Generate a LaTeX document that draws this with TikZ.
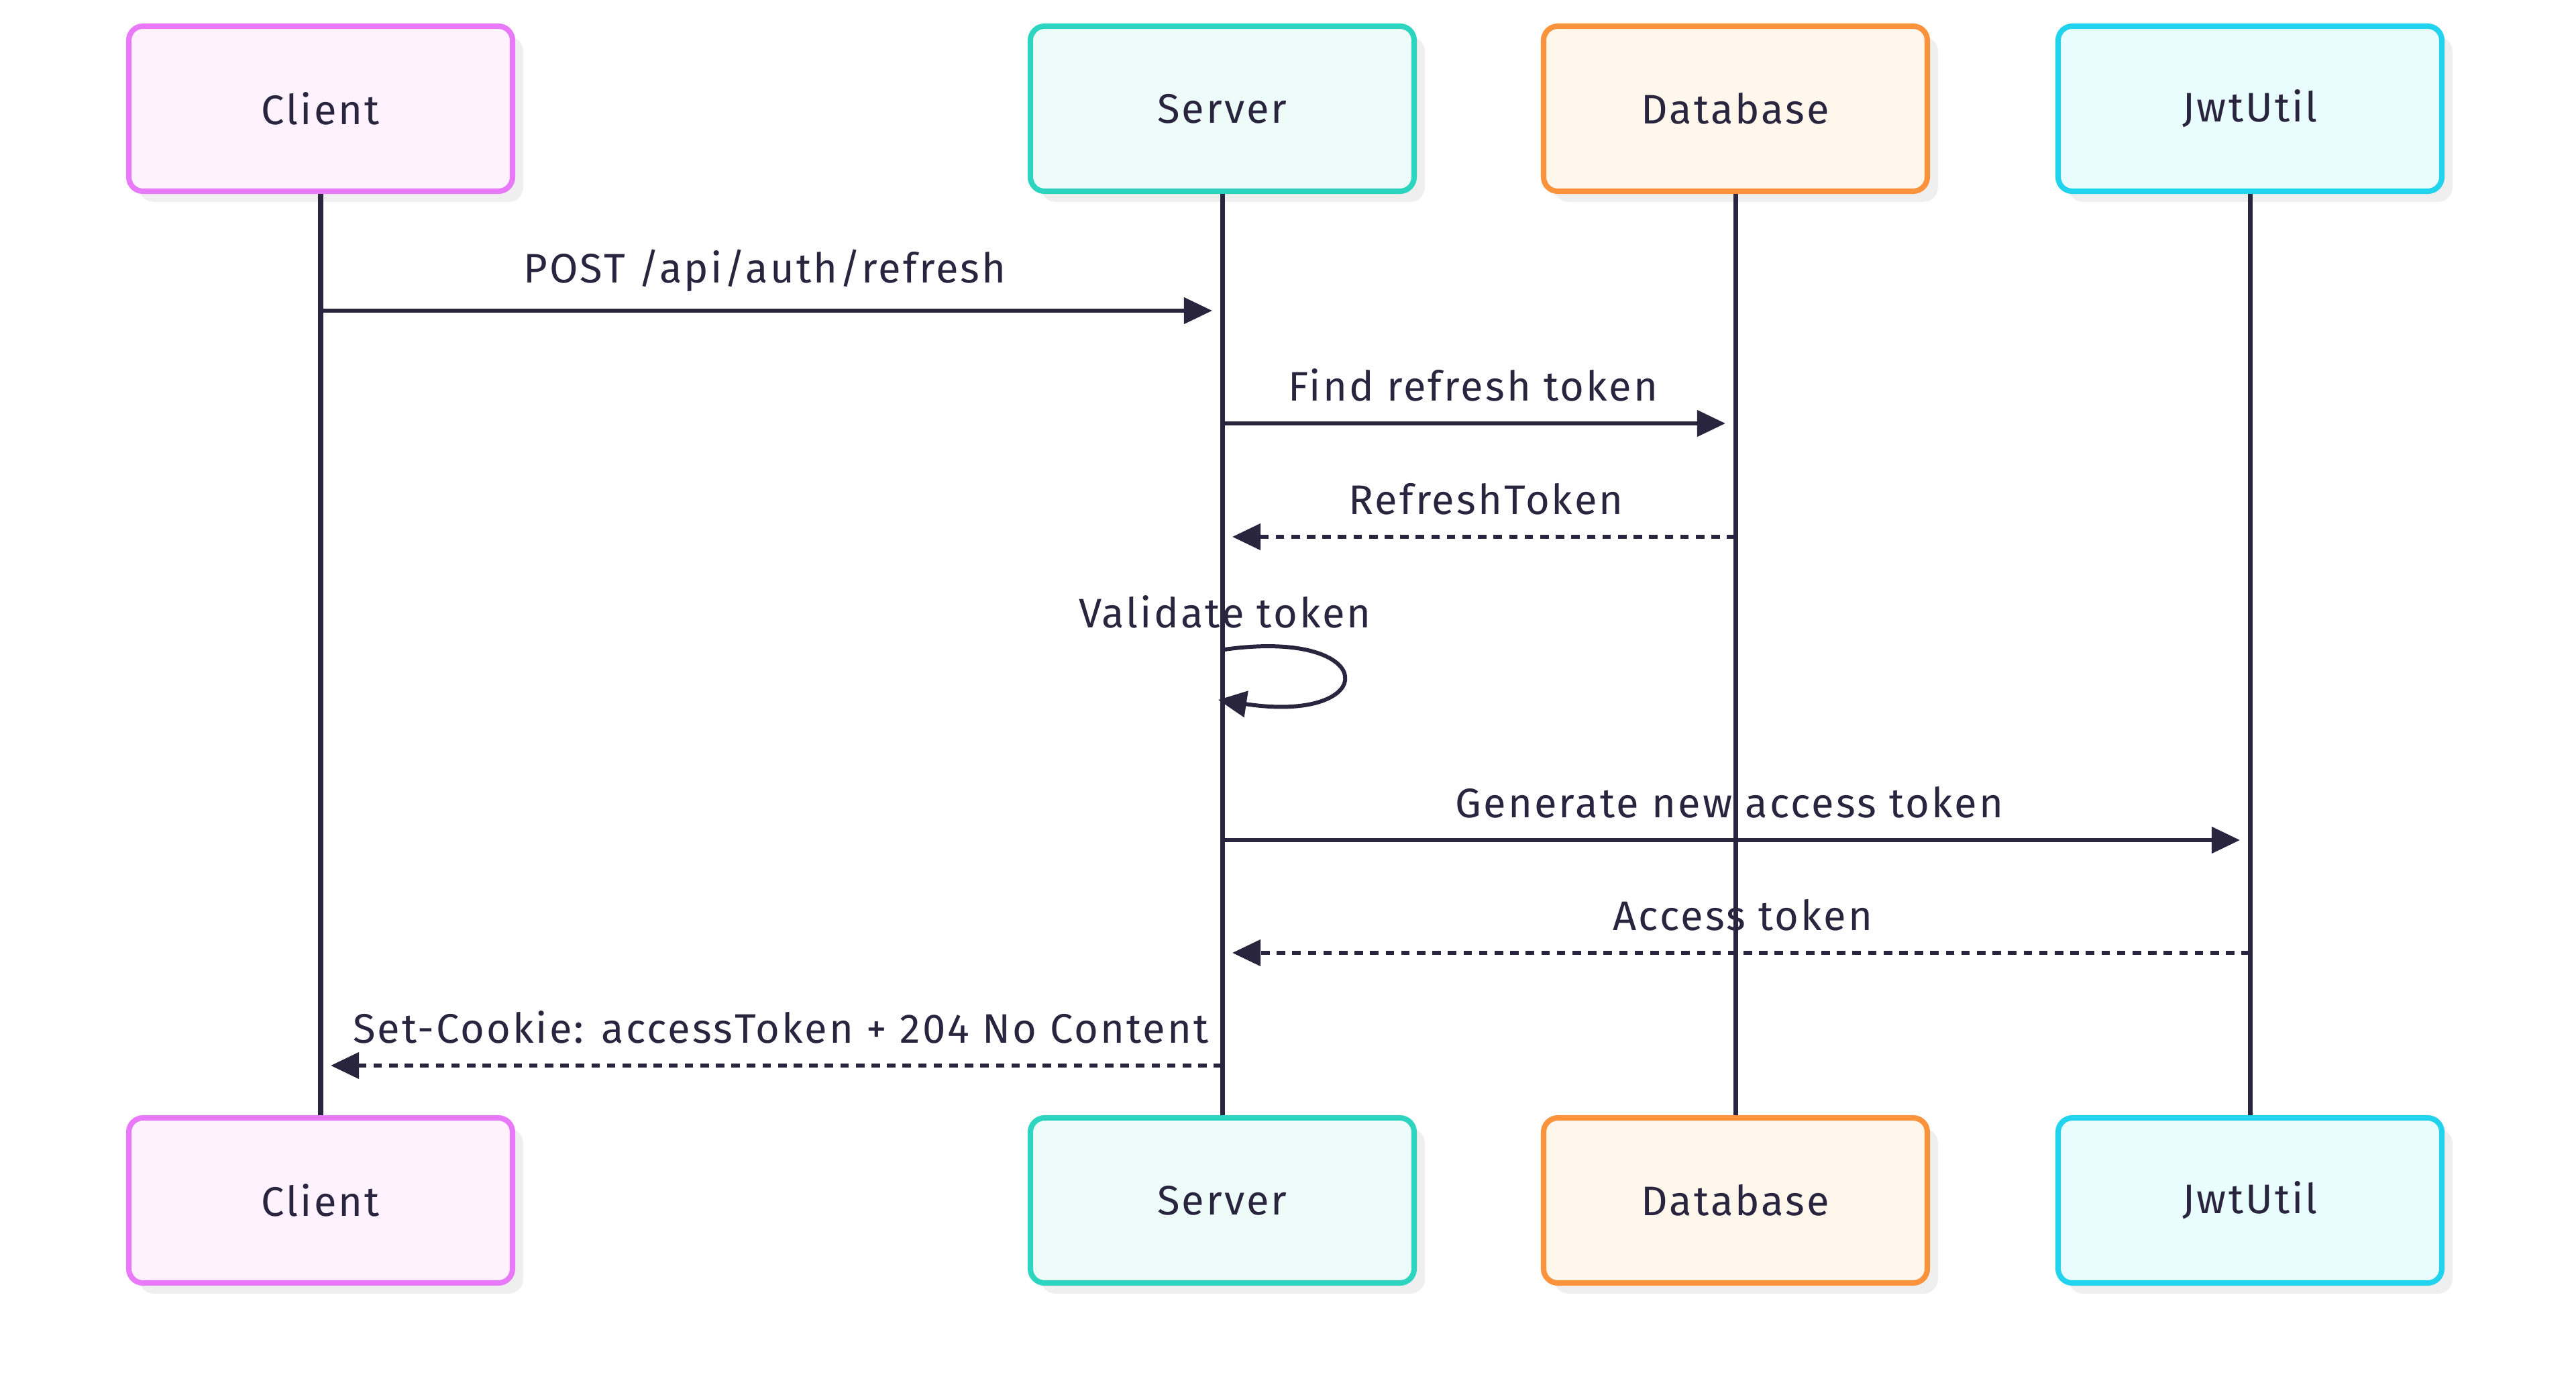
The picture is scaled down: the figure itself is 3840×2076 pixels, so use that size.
\documentclass[tikz,border=0pt]{standalone}
\usepackage{fontspec}
\setmainfont{Fira Sans}[LetterSpace=5]
\usetikzlibrary{arrows.meta,shadows}
\definecolor{ink}{HTML}{29253F}
\definecolor{shadowc}{HTML}{EFEFEF}
\definecolor{clientS}{HTML}{E879F9}\definecolor{clientF}{HTML}{FDF2FE}
\definecolor{serverS}{HTML}{2DD4BF}\definecolor{serverF}{HTML}{EEFCF9}
\definecolor{dbS}{HTML}{FB923C}\definecolor{dbF}{HTML}{FFF6EC}
\definecolor{jwtS}{HTML}{22D3EE}\definecolor{jwtF}{HTML}{EAFDFE}
\begin{document}
\begin{tikzpicture}[x=0.1mm,y=-0.1mm,
  txt/.style={text=ink,font=\fontsize{17.5}{21}\selectfont},
  actor/.style={txt,draw,line width=2.3pt,rounded corners=6pt,minimum width=57.2mm,minimum height=24.6mm,inner sep=0pt,
    drop shadow={shadow xshift=4.5pt,shadow yshift=-4.5pt,fill=shadowc,opacity=1}},
  lifeline/.style={draw=ink,line width=2pt},
  msg/.style={draw=ink,line width=1.7pt,-{Triangle[length=12pt,width=11pt]}},
  reply/.style={msg,dash pattern=on 3.6pt off 3pt},
  lbl/.style={txt,anchor=base,inner sep=0pt}]
\useasboundingbox (0,0) rectangle (3840,2076);
% actors
\node[actor,draw=clientS,fill=clientF] (cT) at (478,162) {Client};
\node[actor,draw=serverS,fill=serverF] (sT) at (1822,162) {Server};
\node[actor,draw=dbS,fill=dbF] (dT) at (2587,162) {Database};
\node[actor,draw=jwtS,fill=jwtF] (jT) at (3354,162) {JwtUtil};
\node[actor,draw=clientS,fill=clientF] (cB) at (478,1789) {Client};
\node[actor,draw=serverS,fill=serverF] (sB) at (1822,1789) {Server};
\node[actor,draw=dbS,fill=dbF] (dB) at (2587,1789) {Database};
\node[actor,draw=jwtS,fill=jwtF] (jB) at (3354,1789) {JwtUtil};
% lifelines
\draw[lifeline] (cT.south) -- (cB.north);
\draw[lifeline] (sT.south) -- (sB.north);
\draw[lifeline] (dT.south) -- (dB.north);
\draw[lifeline] (jT.south) -- (jB.north);
% message points
\coordinate (m1a) at (478,463);  \coordinate (m1b) at (1807,463);
\coordinate (m2a) at (1822,631); \coordinate (m2b) at (2572,631);
\coordinate (m3a) at (2587,800); \coordinate (m3b) at (1837,800);
\coordinate (lpa) at (1825,968); \coordinate (lpb) at (1816,1043);
\coordinate (m4a) at (1822,1252); \coordinate (m4b) at (3339,1252);
\coordinate (m5a) at (3354,1420); \coordinate (m5b) at (1837,1420);
\coordinate (m6a) at (1822,1588); \coordinate (m6b) at (493,1588);
% messages
\draw[msg] (m1a) -- (m1b);
\node[lbl] (l1) at (1140,421) {POST /api/auth/refresh};
\draw[msg] (m2a) -- (m2b);
\node[lbl] (l2) at (2196,597) {Find refresh token};
\draw[reply] (m3a) -- (m3b);
\node[lbl] (l3) at (2215,766) {RefreshToken};
\draw[msg] (lpa) .. controls (2060,935) and (2060,1080) .. (lpb);
\node[lbl] (l4) at (1826,935) {Validate token};
\draw[msg] (m4a) -- (m4b);
\node[lbl] (l5) at (2578,1218) {Generate new access token};
\draw[reply] (m5a) -- (m5b);
\node[lbl] (l6) at (2598,1386) {Access token};
\draw[reply] (m6a) -- (m6b);
\node[lbl] (l7) at (1164,1554) {Set-Cookie: accessToken + 204 No Content};
\end{tikzpicture}
\end{document}
